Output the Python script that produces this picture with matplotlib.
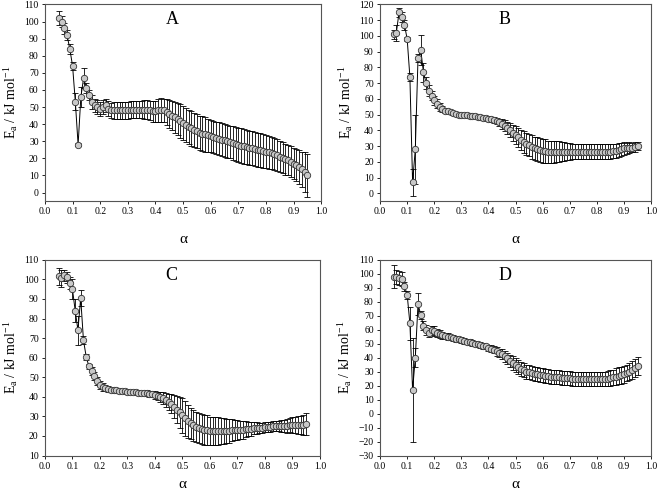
import numpy as np
import matplotlib
matplotlib.use("Agg")
import matplotlib.pyplot as plt

plt.rcParams['font.family'] = ['Liberation Serif', 'DejaVu Serif']
plt.rcParams['mathtext.fontset'] = 'custom'
plt.rcParams['mathtext.rm'] = 'Liberation Serif'
plt.rcParams['mathtext.it'] = 'Liberation Serif:italic'

alpha = [0.05, 0.06, 0.07, 0.08, 0.09, 0.10, 0.11, 0.12, 0.13, 0.14,
         0.15, 0.16, 0.17, 0.18, 0.19, 0.20, 0.21, 0.22, 0.23, 0.24,
         0.25, 0.26, 0.27, 0.28, 0.29, 0.30, 0.31, 0.32, 0.33, 0.34,
         0.35, 0.36, 0.37, 0.38, 0.39, 0.40, 0.41, 0.42, 0.43, 0.44,
         0.45, 0.46, 0.47, 0.48, 0.49, 0.50, 0.51, 0.52, 0.53, 0.54,
         0.55, 0.56, 0.57, 0.58, 0.59, 0.60, 0.61, 0.62, 0.63, 0.64,
         0.65, 0.66, 0.67, 0.68, 0.69, 0.70, 0.71, 0.72, 0.73, 0.74,
         0.75, 0.76, 0.77, 0.78, 0.79, 0.80, 0.81, 0.82, 0.83, 0.84,
         0.85, 0.86, 0.87, 0.88, 0.89, 0.90, 0.91, 0.92, 0.93, 0.94,
         0.95]

ea_A = [102, 100, 96, 92, 84, 74, 53, 28, 56, 67,
        61, 57, 53, 51, 50, 49, 50, 51, 49, 48,
        48, 48, 48, 48, 48, 48, 48.5, 48.5, 48.5, 48.5,
        48.5, 48.5, 48.5, 48, 47.5, 47.5, 48, 48.5, 48, 47,
        46, 45, 44, 43, 42, 40.5, 39.5, 38.5, 37.5, 36.5,
        36, 35, 34.5, 34, 33.5, 33, 32.5, 32, 31.5, 31,
        30.5, 30, 29.5, 29, 28.5, 28, 27.5, 27, 26.5, 26,
        26, 25.5, 25, 25, 24.5, 24, 23.5, 23, 22.5, 22,
        21, 20.5, 19.5, 19, 18, 17, 16, 15, 13.5, 12,
        10]
err_A = [4, 3, 3, 3, 3, 2.5, 5, 1, 6, 6,
         3, 3, 4, 4, 4, 4, 4, 4, 4.5, 4.5,
         5, 5, 5, 5, 5, 5, 5, 5, 5, 5,
         5, 5.5, 5.5, 5.5, 6, 6, 6.5, 7, 7, 7.5,
         8, 8.5, 9, 9.5, 10, 10, 10, 10, 10, 10,
         10, 10, 10, 10, 9.5, 9.5, 9.5, 9.5, 9.5, 9.5,
         9.5, 9.5, 9.5, 10, 10, 10, 10, 10, 10, 10,
         10, 10, 10, 10, 10, 9.5, 9.5, 9.5, 9.5, 9.5,
         9, 9, 9, 9, 9, 9, 9.5, 10, 10.5, 11.5,
         12.5]

ea_B = [101, 102, 115, 112, 107, 98, 74, 7, 28, 86,
        91, 77, 70, 65, 62, 59, 57, 55, 53.5, 52.5,
        52, 51.5, 51, 50.5, 50, 50, 49.5, 49.5, 49, 49,
        49, 48.5, 48.5, 48, 48, 47.5, 47, 46.5, 46, 45,
        44, 43, 41.5, 40, 38.5, 37, 35.5, 34, 32.5, 31.5,
        30.5, 29.5, 28.5, 28, 27.5, 27, 27, 26.5, 26.5, 26.5,
        26.5, 26.5, 26.5, 26.5, 26.5, 26.5, 26.5, 26.5, 26.5, 26.5,
        26.5, 26.5, 26.5, 26.5, 26.5, 26.5, 26.5, 26.5, 26.5, 26.5,
        26.5, 27, 27, 27.5, 28, 28.5, 28.5, 29, 29, 29.5,
        30]
err_B = [3, 5, 3, 3, 3, 1.5, 2.5, 8.5, 22, 2.5,
         9.5, 6, 4, 3.5, 3, 3, 3, 2.5, 2, 1.5,
         1, 1, 1, 1, 1, 1, 1, 1, 1, 1,
         1, 1, 1, 1, 1, 1.5, 1.5, 2, 2, 2.5,
         3, 3.5, 4, 4.5, 5, 5.5, 6, 6.5, 7, 7,
         7, 7.5, 7.5, 7.5, 7.5, 7.5, 7.5, 7, 7, 7,
         6.5, 6.5, 6, 6, 5.5, 5.5, 5, 5, 5, 5,
         4.5, 4.5, 4.5, 4.5, 4.5, 4.5, 4.5, 4.5, 4.5, 4.5,
         4.5, 4.5, 4.5, 4.5, 4, 4, 3.5, 3.5, 3, 3,
         2.5]

ea_C = [101.5, 100.5, 102, 101, 98, 95, 84, 74, 90.5, 69,
        60.5, 55.5, 53, 50.5, 48, 46, 45, 44.5, 44, 43.5,
        43.5, 43.5, 43, 43, 43, 42.5, 42.5, 42.5, 42.5, 42,
        42, 42, 42, 41.5, 41.5, 41, 40.5, 40, 39.5, 38.5,
        37.5, 36.5, 35, 33.5, 32, 30.5, 29, 27.5, 26.5, 25.5,
        24.5, 24, 23.5, 23, 23, 22.5, 22.5, 22.5, 22.5, 22.5,
        22.5, 22.5, 22.5, 23, 23, 23, 23, 23, 23.5, 23.5,
        23.5, 24, 24, 24, 24, 24.5, 24.5, 24.5, 25, 25,
        25, 25, 25, 25, 25.5, 25.5, 25.5, 25.5, 25.5, 25.5,
        26]
err_C = [4.5, 4.5, 3, 3, 3, 5, 6, 7.5, 4, 2,
         1.5, 1.5, 2, 2, 2, 2, 2, 1.5, 1.5, 1,
         1, 1, 1, 1, 1, 1, 1, 1, 1, 1,
         1, 1, 1.5, 1.5, 1.5, 2, 2, 2.5, 3, 3.5,
         4, 5, 6, 7, 8, 9, 9, 8.5, 8, 8,
         7.5, 7.5, 7.5, 7.5, 7.5, 7, 7, 7, 7, 6.5,
         6.5, 6, 6, 5.5, 5, 5, 4.5, 4.5, 4, 3.5,
         3.5, 3, 3, 2.5, 2.5, 2.5, 2.5, 2.5, 2.5, 2.5,
         2.5, 3, 3, 3.5, 3.5, 4, 4, 4.5, 4.5, 5,
         5.5]

ea_D = [98, 98, 97, 96, 91, 85, 64.5, 17, 40, 78.5,
        70.5, 63, 60, 58, 59.5, 59, 57.5, 57, 56, 55.5,
        55, 54.5, 54, 53.5, 53, 52.5, 52, 51.5, 51, 50.5,
        50, 49.5, 49, 48.5, 48, 47, 46.5, 45.5, 44.5, 43.5,
        42.5, 41, 39.5, 37.5, 36, 34.5, 33, 32, 31, 30,
        29.5, 29, 28.5, 28, 27.5, 27.5, 27, 27, 26.5, 26.5,
        26, 26, 25.5, 25.5, 25.5, 25.5, 25, 25, 25, 25,
        25, 25, 25, 25, 25, 25, 25, 25, 25, 25,
        25.5, 26, 26.5, 27, 27.5, 28, 29, 30, 31, 32.5,
        34]
err_D = [8.5, 5, 5, 5, 3, 3, 12, 37, 7, 8,
         3, 3, 3.5, 3.5, 3.5, 3.5, 3, 3, 2.5, 2.5,
         2.5, 2, 2, 2, 2, 2, 2, 2, 2, 2,
         2, 2, 2, 2, 2, 2, 2.5, 2.5, 3, 3,
         3.5, 4, 4, 4.5, 5, 5, 5, 5, 5, 5,
         5, 5, 5, 5, 5, 5, 5, 5, 5, 5,
         5, 5, 5, 5, 5, 5, 5, 5, 5, 5,
         5, 5, 5, 5, 5, 5, 5, 5, 5, 5.5,
         5.5, 5.5, 6, 6, 6, 6, 6, 6, 6.5, 6.5,
         6.5]

panels = [
    ("A", ea_A, err_A, (-5, 110), np.arange(0, 111, 10), [0.068, 0.592, 0.418, 0.399], 12),
    ("B", ea_B, err_B, (-5, 120), np.arange(0, 121, 10), [0.575, 0.592, 0.410, 0.399], 12),
    ("C", ea_C, err_C, (10, 110), np.arange(10, 111, 10), [0.068, 0.076, 0.416, 0.397], 5),
    ("D", ea_D, err_D, (-30, 110), np.arange(-30, 111, 10), [0.575, 0.076, 0.410, 0.397], 5),
]

fig = plt.figure(figsize=(6.61, 4.93), dpi=100)
for letter, ea, err, ylim, yticks, pos, xlpad in panels:
    ax = fig.add_axes(pos)
    ax.errorbar(alpha, ea, yerr=err, fmt='none', ecolor='black',
                elinewidth=0.6, capsize=2.4, capthick=0.6, zorder=2)
    ax.plot(alpha, ea, '-', color='black', lw=0.7, zorder=3)
    ax.plot(alpha, ea, 'o', ms=4.6, mfc='#c8c8c8', mec='#333333', mew=0.6,
            zorder=4, linestyle='none')
    ax.set_xlim(0, 1.0)
    ax.set_ylim(*ylim)
    ax.set_xticks(np.arange(0, 1.01, 0.1))
    ax.set_xticklabels([f"{v:.1f}" for v in np.arange(0, 1.01, 0.1)])
    ax.set_yticks(yticks)
    ax.tick_params(labelsize=7, length=2.5, width=0.6, direction='out', pad=2)
    for sp in ax.spines.values():
        sp.set_color('#555555')
        sp.set_linewidth(0.8)
    ax.set_xlabel('α', fontsize=11, labelpad=xlpad)
    ax.set_ylabel(r'E$_\mathrm{a}$ / kJ mol$^{\mathrm{-1}}$', fontsize=10, labelpad=3)
    ax.text(0.46, 0.965, letter, transform=ax.transAxes, fontsize=13,
            ha='center', va='top')

fig.savefig('out.png', dpi=100)
